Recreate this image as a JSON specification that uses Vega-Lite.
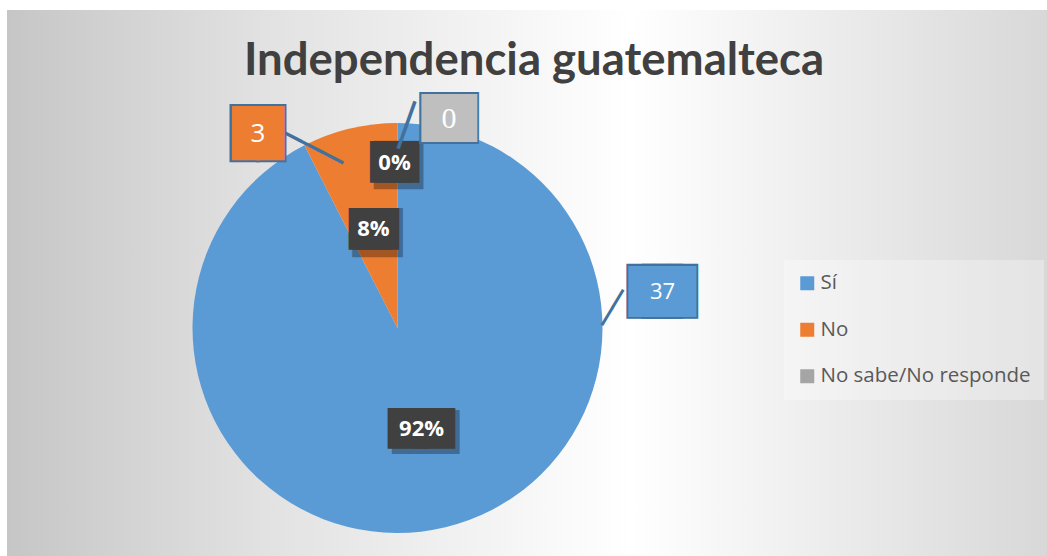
{
  "$schema": "https://vega.github.io/schema/vega-lite/v6.json",
  "width": 1040,
  "height": 546,
  "autosize": "none",
  "padding": {"left": 7, "top": 10, "right": 0, "bottom": 0},
  "background": "#ffffff",
  "view": {
    "stroke": null,
    "fill": {"gradient": "linear", "x1": 0, "y1": 0, "x2": 1, "y2": 0,
      "stops": [{"offset": 0, "color": "#c6c6c6"}, {"offset": 0.25, "color": "#e2e2e2"}, {"offset": 0.6, "color": "#ffffff"}, {"offset": 1, "color": "#d8d8d8"}]}
  },
  "config": {"view": {"stroke": null}},
  "title": {
    "text": "Independencia guatemalteca",
    "font": "Lato",
    "fontSize": 45.5,
    "fontWeight": "bold",
    "color": "#404040",
    "anchor": "middle",
    "dx": 7,
    "offset": -74
  },
  "data": {
    "values": [
      {"cat": "Sí", "valor": 37, "pct": 0.92},
      {"cat": "No", "valor": 3, "pct": 0.08},
      {"cat": "No sabe/No responde", "valor": 0, "pct": 0}
    ]
  },
  "encoding": {
    "theta": {"field": "valor", "type": "quantitative", "stack": true},
    "order": {"field": "valor", "sort": "descending"},
    "detail": {"field": "cat"}
  },
  "layer": [
    {
      "mark": {"type": "arc", "outerRadius": 205, "xOffset": -129.5, "yOffset": 45},
      "encoding": {
        "color": {
          "field": "cat", "type": "nominal",
          "scale": {"domain": ["Sí", "No", "No sabe/No responde"], "range": ["#5B9BD5", "#ED7D31", "#A5A5A5"]},
          "legend": {
            "orient": "none", "legendX": 777, "legendY": 250, "title": null,
            "symbolType": "square", "symbolSize": 196, "symbolStrokeWidth": 0,
            "labelFont": "Open Sans", "labelFontSize": 20.5, "labelColor": "#595959", "labelLimit": 300,
            "rowPadding": 25.5, "labelOffset": 3, "padding": 13,
            "fillColor": "rgba(255,255,255,0.3)"
          }
        }
      }
    },
    {"mark": {"type": "text", "font": "DejaVu Sans Mono", "fontSize": 37.1, "align": "center", "baseline": "middle", "dx": 4, "dy": 5.7, "radius": 103, "xOffset": -129.5, "yOffset": 45, "color": "#000000", "opacity": 0.3},
     "encoding": {"text": {"condition": {"test": "datum.cat === 'Sí'", "value": "███"}, "value": ""}}},
    {"mark": {"type": "text", "font": "DejaVu Sans Mono", "fontSize": 41.5, "align": "center", "baseline": "middle", "dx": 4, "dy": 5.9, "radius": 102, "xOffset": -129.5, "yOffset": 45, "color": "#000000", "opacity": 0.3},
     "encoding": {"text": {"condition": {"test": "datum.cat === 'No'", "value": "██"}, "value": ""}}},
    {"mark": {"type": "text", "font": "DejaVu Sans Mono", "fontSize": 40.7, "align": "center", "baseline": "middle", "dx": 4, "dy": 5.9, "radius": 166.5, "thetaOffset": -0.018, "xOffset": -129.5, "yOffset": 45, "color": "#000000", "opacity": 0.3},
     "encoding": {"text": {"condition": {"test": "datum.cat === 'No sabe/No responde'", "value": "██"}, "value": ""}}},
    {"mark": {"type": "text", "font": "DejaVu Sans Mono", "fontSize": 34.4, "align": "left", "baseline": "middle", "dx": -33.5, "dy": 1.6, "radius": 103, "xOffset": -129.5, "yOffset": 45, "color": "#404040"},
     "encoding": {"text": {"condition": {"test": "datum.cat === 'Sí'", "value": "██"}, "value": ""}}},
    {"mark": {"type": "text", "font": "DejaVu Sans Mono", "fontSize": 34.4, "align": "right", "baseline": "middle", "dx": 33.5, "dy": 1.6, "radius": 103, "xOffset": -129.5, "yOffset": 45, "color": "#404040"},
     "encoding": {"text": {"condition": {"test": "datum.cat === 'Sí'", "value": "██"}, "value": ""}}},
    {"mark": {"type": "text", "font": "DejaVu Sans Mono", "fontSize": 35.2, "align": "left", "baseline": "middle", "dx": -25, "dy": 1.6, "radius": 102, "xOffset": -129.5, "yOffset": 45, "color": "#404040"},
     "encoding": {"text": {"condition": {"test": "datum.cat === 'No'", "value": "██"}, "value": ""}}},
    {"mark": {"type": "text", "font": "DejaVu Sans Mono", "fontSize": 35.2, "align": "right", "baseline": "middle", "dx": 25, "dy": 1.6, "radius": 102, "xOffset": -129.5, "yOffset": 45, "color": "#404040"},
     "encoding": {"text": {"condition": {"test": "datum.cat === 'No'", "value": "██"}, "value": ""}}},
    {"mark": {"type": "text", "font": "DejaVu Sans Mono", "fontSize": 35.2, "align": "left", "baseline": "middle", "dx": -24.5, "dy": 1.6, "radius": 166.5, "thetaOffset": -0.018, "xOffset": -129.5, "yOffset": 45, "color": "#404040"},
     "encoding": {"text": {"condition": {"test": "datum.cat === 'No sabe/No responde'", "value": "██"}, "value": ""}}},
    {"mark": {"type": "text", "font": "DejaVu Sans Mono", "fontSize": 35.2, "align": "right", "baseline": "middle", "dx": 24.5, "dy": 1.6, "radius": 166.5, "thetaOffset": -0.018, "xOffset": -129.5, "yOffset": 45, "color": "#404040"},
     "encoding": {"text": {"condition": {"test": "datum.cat === 'No sabe/No responde'", "value": "██"}, "value": ""}}},
    {"mark": {"type": "text", "font": "Open Sans", "fontSize": 22, "fontWeight": "bold", "align": "center", "baseline": "middle", "dy": 1, "radius": 103, "xOffset": -129.5, "yOffset": 45, "color": "#ffffff"},
     "encoding": {"text": {"condition": {"test": "datum.cat !== 'No sabe/No responde'", "field": "pct", "type": "quantitative", "format": ".0%"}, "value": ""}}},
    {"mark": {"type": "text", "font": "Open Sans", "fontSize": 22, "fontWeight": "bold", "align": "center", "baseline": "middle", "dy": 1, "radius": 166.5, "thetaOffset": -0.018, "xOffset": -129.5, "yOffset": 45, "color": "#ffffff"},
     "encoding": {"text": {"condition": {"test": "datum.cat === 'No sabe/No responde'", "field": "pct", "type": "quantitative", "format": ".0%"}, "value": ""}}},
    {"mark": {"type": "text", "font": "DejaVu Sans Mono", "fontSize": 34, "align": "center", "baseline": "middle", "dy": 1.6, "angle": 301, "radius": 216, "thetaOffset": -1.4303, "xOffset": -129.5, "yOffset": 45, "color": "#41719C"},
     "encoding": {"text": {"condition": {"test": "datum.cat === 'Sí'", "value": "──"}, "value": ""}}},
    {"mark": {"type": "text", "font": "DejaVu Sans Mono", "fontSize": 39, "align": "center", "baseline": "middle", "dy": 1.8, "angle": 27.3, "radius": 200.9, "thetaOffset": -0.2053, "xOffset": -129.5, "yOffset": 45, "color": "#41719C"},
     "encoding": {"text": {"condition": {"test": "datum.cat === 'No'", "value": "───"}, "value": ""}}},
    {"mark": {"type": "text", "font": "DejaVu Sans Mono", "fontSize": 41, "align": "center", "baseline": "middle", "dy": 1.9, "angle": 289.7, "radius": 203.2, "thetaOffset": 0.0453, "xOffset": -129.5, "yOffset": 45, "color": "#41719C"},
     "encoding": {"text": {"condition": {"test": "datum.cat === 'No sabe/No responde'", "value": "──"}, "value": ""}}},
    {"mark": {"type": "text", "font": "DejaVu Sans Mono", "fontSize": 46.4, "align": "left", "baseline": "middle", "dx": -35.5, "dy": 2.1, "radius": 267.6, "thetaOffset": -1.474, "xOffset": -129.5, "yOffset": 45, "color": "#41719C"},
     "encoding": {"text": {"condition": {"test": "datum.cat === 'Sí'", "value": "██"}, "value": ""}}},
    {"mark": {"type": "text", "font": "DejaVu Sans Mono", "fontSize": 46.4, "align": "right", "baseline": "middle", "dx": 35.5, "dy": 2.1, "radius": 267.6, "thetaOffset": -1.474, "xOffset": -129.5, "yOffset": 45, "color": "#41719C"},
     "encoding": {"text": {"condition": {"test": "datum.cat === 'Sí'", "value": "██"}, "value": ""}}},
    {"mark": {"type": "text", "font": "DejaVu Sans Mono", "fontSize": 43, "align": "left", "baseline": "middle", "dx": -33.5, "dy": 2, "radius": 267.6, "thetaOffset": -1.474, "xOffset": -129.5, "yOffset": 45, "color": "#5B9BD5"},
     "encoding": {"text": {"condition": {"test": "datum.cat === 'Sí'", "value": "██"}, "value": ""}}},
    {"mark": {"type": "text", "font": "DejaVu Sans Mono", "fontSize": 43, "align": "right", "baseline": "middle", "dx": 33.5, "dy": 2, "radius": 267.6, "thetaOffset": -1.474, "xOffset": -129.5, "yOffset": 45, "color": "#5B9BD5"},
     "encoding": {"text": {"condition": {"test": "datum.cat === 'Sí'", "value": "██"}, "value": ""}}},
    {"mark": {"type": "text", "font": "Open Sans", "fontSize": 22, "align": "center", "baseline": "middle", "dy": 1, "radius": 267.6, "thetaOffset": -1.474, "xOffset": -129.5, "yOffset": 45, "color": "#ffffff"},
     "encoding": {"text": {"condition": {"test": "datum.cat === 'Sí'", "field": "valor", "type": "quantitative"}, "value": ""}}},
    {"mark": {"type": "text", "font": "DejaVu Sans Mono", "fontSize": 49, "align": "left", "baseline": "middle", "dx": -28, "dy": 2.3, "radius": 240.2, "thetaOffset": -0.3842, "xOffset": -129.5, "yOffset": 45, "color": "#41719C"},
     "encoding": {"text": {"condition": {"test": "datum.cat === 'No'", "value": "█"}, "value": ""}}},
    {"mark": {"type": "text", "font": "DejaVu Sans Mono", "fontSize": 49, "align": "right", "baseline": "middle", "dx": 28, "dy": 2.3, "radius": 240.2, "thetaOffset": -0.3842, "xOffset": -129.5, "yOffset": 45, "color": "#41719C"},
     "encoding": {"text": {"condition": {"test": "datum.cat === 'No'", "value": "█"}, "value": ""}}},
    {"mark": {"type": "text", "font": "DejaVu Sans Mono", "fontSize": 45.5, "align": "left", "baseline": "middle", "dx": -26, "dy": 2.1, "radius": 240.2, "thetaOffset": -0.3842, "xOffset": -129.5, "yOffset": 45, "color": "#ED7D31"},
     "encoding": {"text": {"condition": {"test": "datum.cat === 'No'", "value": "█"}, "value": ""}}},
    {"mark": {"type": "text", "font": "DejaVu Sans Mono", "fontSize": 45.5, "align": "right", "baseline": "middle", "dx": 26, "dy": 2.1, "radius": 240.2, "thetaOffset": -0.3842, "xOffset": -129.5, "yOffset": 45, "color": "#ED7D31"},
     "encoding": {"text": {"condition": {"test": "datum.cat === 'No'", "value": "█"}, "value": ""}}},
    {"mark": {"type": "text", "font": "Open Sans", "fontSize": 26, "align": "center", "baseline": "middle", "dy": 1.5, "radius": 240.2, "thetaOffset": -0.3842, "xOffset": -129.5, "yOffset": 45, "color": "#ffffff"},
     "encoding": {"text": {"condition": {"test": "datum.cat === 'No'", "field": "valor", "type": "quantitative"}, "value": ""}}},
    {"mark": {"type": "text", "font": "DejaVu Sans Mono", "fontSize": 43.8, "align": "left", "baseline": "middle", "dx": -29.5, "dy": 2, "radius": 216.2, "thetaOffset": 0.2405, "xOffset": -129.5, "yOffset": 45, "color": "#41719C"},
     "encoding": {"text": {"condition": {"test": "datum.cat === 'No sabe/No responde'", "value": "██"}, "value": ""}}},
    {"mark": {"type": "text", "font": "DejaVu Sans Mono", "fontSize": 43.8, "align": "right", "baseline": "middle", "dx": 29.5, "dy": 2, "radius": 216.2, "thetaOffset": 0.2405, "xOffset": -129.5, "yOffset": 45, "color": "#41719C"},
     "encoding": {"text": {"condition": {"test": "datum.cat === 'No sabe/No responde'", "value": "██"}, "value": ""}}},
    {"mark": {"type": "text", "font": "DejaVu Sans Mono", "fontSize": 40.4, "align": "left", "baseline": "middle", "dx": -27.5, "dy": 1.9, "radius": 216.2, "thetaOffset": 0.2405, "xOffset": -129.5, "yOffset": 45, "color": "#BFBFBF"},
     "encoding": {"text": {"condition": {"test": "datum.cat === 'No sabe/No responde'", "value": "██"}, "value": ""}}},
    {"mark": {"type": "text", "font": "DejaVu Sans Mono", "fontSize": 40.4, "align": "right", "baseline": "middle", "dx": 27.5, "dy": 1.9, "radius": 216.2, "thetaOffset": 0.2405, "xOffset": -129.5, "yOffset": 45, "color": "#BFBFBF"},
     "encoding": {"text": {"condition": {"test": "datum.cat === 'No sabe/No responde'", "value": "██"}, "value": ""}}},
    {"mark": {"type": "text", "font": "Liberation Serif", "fontSize": 30, "align": "center", "baseline": "middle", "dy": 1, "radius": 216.2, "thetaOffset": 0.2405, "xOffset": -129.5, "yOffset": 45, "color": "#ffffff"},
     "encoding": {"text": {"condition": {"test": "datum.cat === 'No sabe/No responde'", "field": "valor", "type": "quantitative"}, "value": ""}}}
  ]
}
